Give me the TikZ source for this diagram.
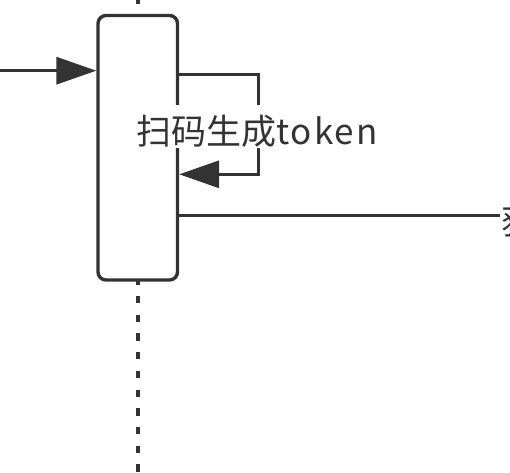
\documentclass[tikz,border=0pt]{standalone}
\usepackage{fontspec}
\usepackage{tikz}
\usetikzlibrary{arrows.meta,calc}
\newfontfamily\cjk{Noto Sans CJK SC}
\definecolor{ink}{RGB}{51,51,51}

\begin{document}
\begin{tikzpicture}[x=1pt,y=-1pt,line width=3.4pt,draw=ink,
  >={Triangle[length=40pt,width=27pt]},
  act/.style={draw,fill=white,rounded corners=8pt,minimum width=79.5pt,minimum height=264.5pt,inner sep=0pt},
  life/.style={line width=4pt,dash pattern=on 7.3pt off 11.4pt},
  msg/.style={font=\cjk\fontsize{35}{40}\selectfont,text=ink,inner sep=0pt},
  lbl/.style={msg,fill=white,inner xsep=2pt,text height=39pt,text depth=4pt}]
  \clip (0,0) rectangle (510,472);
  % lifeline and activation box
  \coordinate (ltop) at (138,-3.2);
  \draw[life] (ltop) -- (ltop |- 0,472);
  \node[act] (act) at (137.75,147.75) {};
  % incoming call
  \coordinate (src) at (0,70.7);
  \draw[->] (src) -- (src -| act.west);
  % self call
  \coordinate (ls) at ($(act.north east)+(0,60.5)$);
  \coordinate (le) at ($(act.north east)+(0,160.5)$);
  \draw[->] (ls) -- ++(79.5,0) |- (le);
  \node[lbl,anchor=base] (scan) at (257,144) {扫码生成{\addfontfeature{LetterSpace=6}token}};
  % outgoing call
  \node[msg,anchor=base west] (get) at (500,234) {获};
  \coordinate (os) at ($(act.north east)+(0,201.5)$);
  \draw (os) -- (os -| get.west);
\end{tikzpicture}
\end{document}
